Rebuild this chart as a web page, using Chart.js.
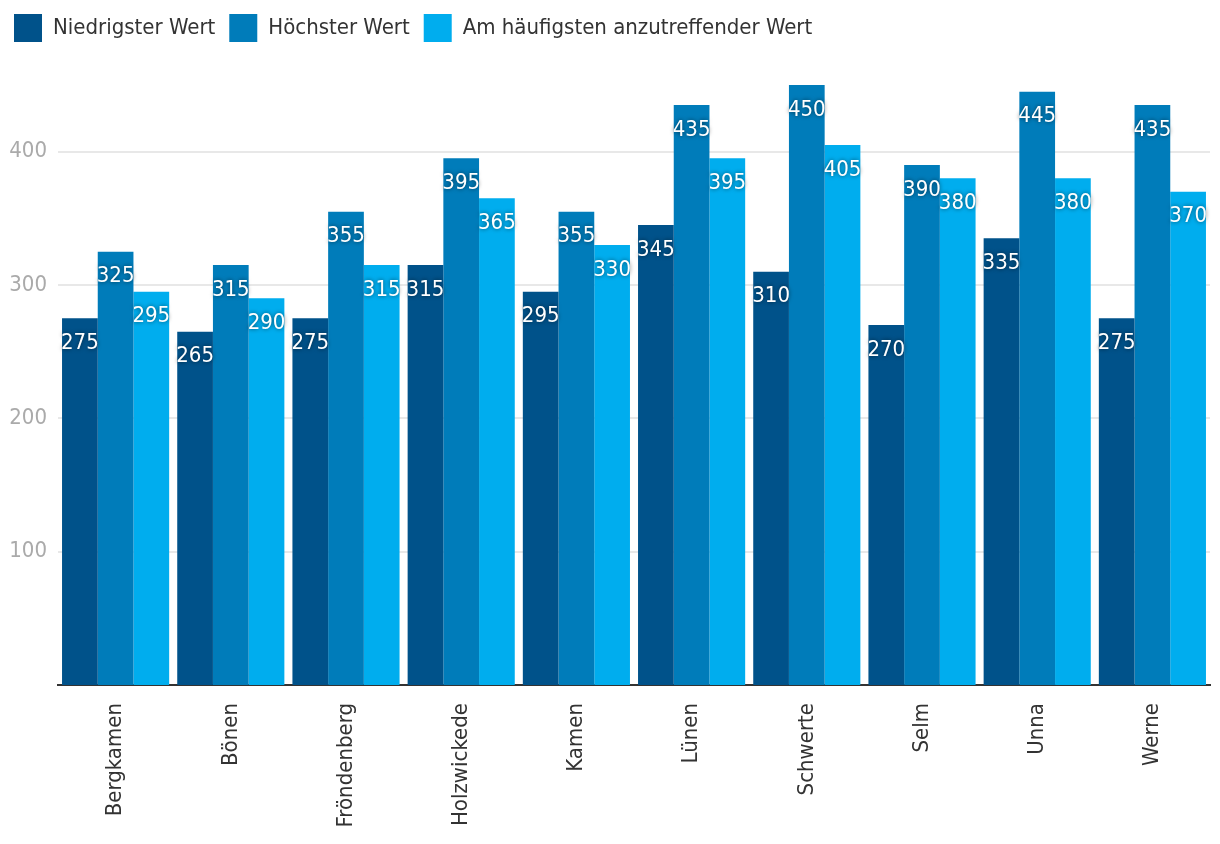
<!DOCTYPE html>
<html>
<head>
<meta charset="utf-8">
<script src="https://cdn.jsdelivr.net/npm/chart.js@4"></script>
<style>
  body { margin: 0; background: #fff; }
  #wrap { width: 1220px; height: 844px; position: relative; }
</style>
</head>
<body>
<div id="wrap"><canvas id="bar-chart"></canvas></div>
<script>
var staedte = ['Bergkamen', 'Bönen', 'Fröndenberg', 'Holzwickede', 'Kamen', 'Lünen', 'Schwerte', 'Selm', 'Unna', 'Werne'];
var niedrigster = [275, 265, 275, 315, 295, 345, 310, 270, 335, 275];
var hoechster = [325, 315, 355, 395, 355, 435, 450, 390, 445, 435];
var haeufigster = [295, 290, 315, 365, 330, 395, 405, 380, 380, 370];
var yTicks = [100, 200, 300, 400];

var fontFamily = '"Liberation Sans Narrow", "DejaVu Sans Condensed", "Noto Sans", sans-serif';

// push plot area down below the legend
var legendGap = {
    id: 'legendGap',
    beforeInit: function(chart){
        var fit = chart.legend.fit;
        chart.legend.fit = function(){
            fit.bind(chart.legend)();
            this.height = 85;
        };
    }
};

// white value labels just inside the top of each bar
var valueLabels = {
    id: 'valueLabels',
    afterDatasetsDraw: function(chart){
        var ctx = chart.ctx;
        ctx.save();
        ctx.font = '22px ' + fontFamily;
        ctx.fillStyle = '#fff';
        ctx.textAlign = 'center';
        ctx.textBaseline = 'middle';
        ctx.shadowColor = 'rgba(0,0,0,0.6)';
        ctx.shadowBlur = 4;
        chart.data.datasets.forEach(function(ds, i){
            chart.getDatasetMeta(i).data.forEach(function(bar, j){
                ctx.fillText(ds.data[j], bar.x, bar.y + 25);
            });
        });
        ctx.restore();
    }
};

var ctx = document.getElementById('bar-chart');
var chart = new Chart(ctx, {
    type: 'bar',
    data: {
        labels: staedte,
        datasets: [
            { label: 'Niedrigster Wert', data: niedrigster, backgroundColor: '#00528a' },
            { label: 'Höchster Wert', data: hoechster, backgroundColor: '#007cba' },
            { label: 'Am häufigsten anzutreffender Wert', data: haeufigster, backgroundColor: '#00adee' }
        ]
    },
    options: {
        responsive: true,
        maintainAspectRatio: false,
        animation: false,
        layout: { padding: { left: 0, right: 10, top: 0, bottom: 0 } },
        datasets: { bar: { categoryPercentage: 0.93, barPercentage: 1.0 } },
        plugins: {
            tooltip: { enabled: false },
            legend: {
                position: 'top',
                align: 'start',
                labels: {
                    boxWidth: 28,
                    boxHeight: 28,
                    padding: 14,
                    color: '#333',
                    font: { family: fontFamily, size: 22 }
                }
            }
        },
        scales: {
            x: {
                grid: { display: false, drawTicks: false },
                border: { display: true, color: '#333', width: 2 },
                ticks: {
                    color: '#333',
                    minRotation: 90,
                    maxRotation: 90,
                    padding: 18,
                    font: { family: fontFamily, size: 22 }
                },
                afterFit: function(scale){ scale.height = 159; }
            },
            y: {
                min: 0,
                max: 450,
                border: { display: false },
                grid: { color: '#e8e8e8', lineWidth: 2, drawTicks: false },
                ticks: {
                    color: '#aaa',
                    padding: 11,
                    font: { family: fontFamily, size: 22 }
                },
                afterBuildTicks: function(scale){
                    scale.ticks = yTicks.map(function(v){ return { value: v }; });
                },
                afterFit: function(scale){ scale.width = 58; }
            }
        }
    },
    plugins: [legendGap, valueLabels]
});
</script>
</body>
</html>
